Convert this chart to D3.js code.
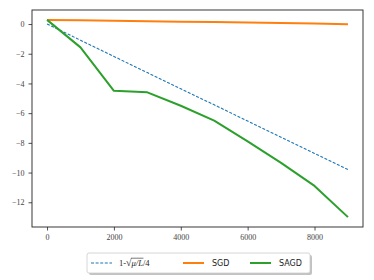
<!DOCTYPE html>
<html>
<head>
<meta charset="utf-8">
<script src="https://cdn.jsdelivr.net/npm/d3@7.9.0/dist/d3.min.js"></script>
<style>
  body { margin: 0; background: #fff; }
  svg { display: block; }
</style>
</head>
<body>
<div id="chart"></div>
<script>
// iterations
const iters = [0, 1000, 2000, 3000, 4000, 5000, 6000, 7000, 8000, 9000];

// series values
const rateBound = [0, -1.09, -2.18, -3.27, -4.36, -5.44, -6.53, -7.62, -8.71, -9.8];
const sgd = [0.28, 0.25, 0.22, 0.19, 0.16, 0.13, 0.10, 0.07, 0.03, -0.01];
const sagd = [0.28, -1.57, -4.5, -4.6, -5.5, -6.5, -7.9, -9.35, -10.9, -13.0];

const xTicks = [0, 2000, 4000, 6000, 8000];
const yTicks = [0, -2, -4, -6, -8, -10, -12];

const width = 374;
const height = 280;
const margin = { top: 10, right: 11, bottom: 53, left: 32 };

const usableArea = {
    top: margin.top,
    right: width - margin.right,
    bottom: height - margin.bottom,
    left: margin.left
};

const svg = d3.select("#chart")
    .append("svg")
    .attr("width", width)
    .attr("height", height);

const xScale = d3.scaleLinear()
    .domain([-450, 9450])
    .range([usableArea.left, usableArea.right]);

const yScale = d3.scaleLinear()
    .domain([-13.665, 0.945])
    .range([usableArea.bottom, usableArea.top]);

const tickFont = "'Liberation Serif', 'DejaVu Serif', serif";
const fmt = d => (d < 0 ? "\u2212" + Math.abs(d) : String(d));

// axes
const xAxis = d3.axisBottom(xScale).tickValues(xTicks).tickSize(3.5).tickPadding(4).tickFormat(fmt);
const yAxis = d3.axisLeft(yScale).tickValues(yTicks).tickSize(3.5).tickPadding(4).tickFormat(fmt);

const gx = svg.append("g")
    .attr("transform", `translate(0,${usableArea.bottom})`)
    .call(xAxis);
const gy = svg.append("g")
    .attr("transform", `translate(${usableArea.left},0)`)
    .call(yAxis);

[gx, gy].forEach(g => {
    g.select(".domain").remove();
    g.selectAll(".tick line").attr("stroke", "#222").attr("stroke-width", 0.8);
    g.selectAll(".tick text")
        .attr("fill", "#444")
        .style("font-family", tickFont)
        .style("font-size", "8px");
});

// frame
svg.append("rect")
    .attr("x", usableArea.left)
    .attr("y", usableArea.top)
    .attr("width", usableArea.right - usableArea.left)
    .attr("height", usableArea.bottom - usableArea.top)
    .attr("fill", "none")
    .attr("stroke", "#222")
    .attr("stroke-width", 0.9);

const line = d3.line()
    .x((d, i) => xScale(iters[i]))
    .y(d => yScale(d));

const series = [
    { name: "bound", values: rateBound, color: "#1f77b4", width: 1.1, dash: "3,1.6" },
    { name: "SGD", values: sgd, color: "#ff7f0e", width: 2, dash: null },
    { name: "SAGD", values: sagd, color: "#2ca02c", width: 2, dash: null }
];

series.forEach(s => {
    svg.append("path")
        .datum(s.values)
        .attr("fill", "none")
        .attr("stroke", s.color)
        .attr("stroke-width", s.width)
        .attr("stroke-dasharray", s.dash)
        .attr("stroke-linejoin", "round")
        .attr("d", line);
});

// legend
const legend = svg.append("g");
const lx = 87, ly = 253, lw = 223, lh = 20;
legend.append("rect")
    .attr("x", lx + 2).attr("y", ly + 2)
    .attr("width", lw).attr("height", lh)
    .attr("rx", 2)
    .attr("fill", "#999").attr("opacity", 0.6);
legend.append("rect")
    .attr("x", lx).attr("y", ly)
    .attr("width", lw).attr("height", lh)
    .attr("rx", 2)
    .attr("fill", "#fff").attr("stroke", "#ccc").attr("stroke-width", 0.8);

const legendFont = "'DejaVu Sans', sans-serif";
const cy = ly + lh / 2;
const items = [
    { s: series[0], x: 91 },
    { s: series[1], x: 183 },
    { s: series[2], x: 250 }
];
items.forEach(it => {
    legend.append("line")
        .attr("x1", it.x).attr("x2", it.x + 21)
        .attr("y1", cy).attr("y2", cy)
        .attr("stroke", it.s.color)
        .attr("stroke-width", it.s.width)
        .attr("stroke-dasharray", it.s.dash);
});

// label 1-sqrt(mu/L)/4
const t0 = legend.append("text")
    .attr("x", 119).attr("y", cy + 3)
    .style("font-family", tickFont)
    .style("font-size", "8.5px")
    .attr("fill", "#222");
t0.append("tspan").text("1-");
t0.append("tspan").text("\u221A").style("font-size", "10px");
const inner = t0.append("tspan").text("\u03BC/L").style("font-style", "italic");
t0.append("tspan").text("/4");

// overline of the square root, over the radicand
const node = t0.node();
const startX = node.getStartPositionOfChar(3).x;
const endX = node.getEndPositionOfChar(5).x;
legend.append("line")
    .attr("x1", startX - 0.5).attr("x2", endX + 0.5)
    .attr("y1", cy - 4.8).attr("y2", cy - 4.8)
    .attr("stroke", "#222").attr("stroke-width", 0.6);

legend.append("text")
    .attr("x", 212).attr("y", cy + 3)
    .style("font-family", legendFont)
    .style("font-size", "8px")
    .attr("fill", "#222")
    .text("SGD");
legend.append("text")
    .attr("x", 279).attr("y", cy + 3)
    .style("font-family", legendFont)
    .style("font-size", "8px")
    .attr("fill", "#222")
    .text("SAGD");
</script>
</body>
</html>
